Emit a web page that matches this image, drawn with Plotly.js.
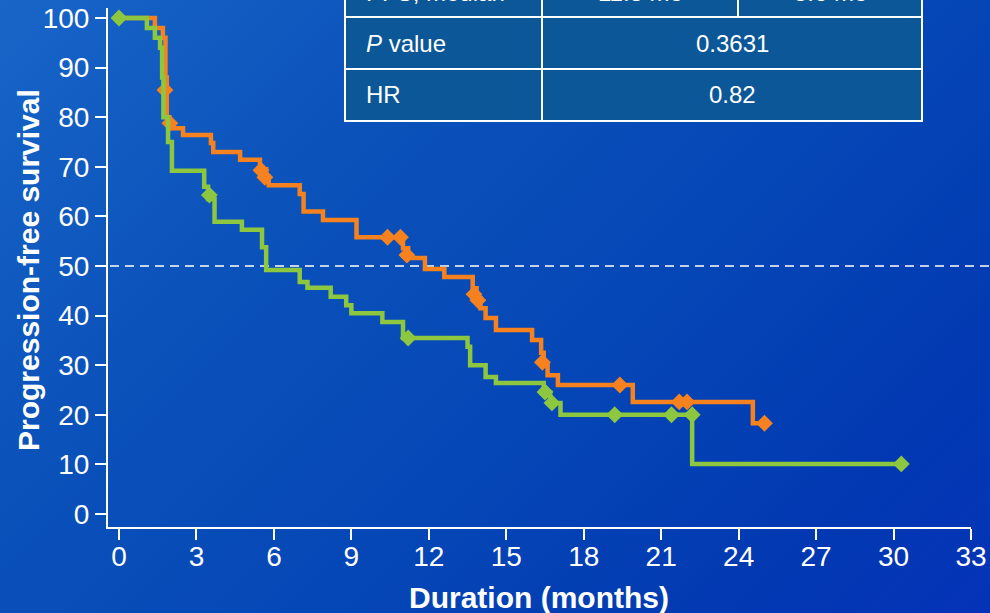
<!DOCTYPE html>
<html>
<head>
<meta charset="utf-8">
<script src="https://cdn.plot.ly/plotly-3.0.1.min.js"></script>
<style>
  html, body { margin: 0; padding: 0; }
  body {
    width: 990px; height: 613px; overflow: hidden;
    background: linear-gradient(135deg, #1865c8 0%, #0b52ba 30%, #0546b6 60%, #0238b2 85%, #0533b8 100%);
  }
  #chart { width: 990px; height: 613px; }
</style>
</head>
<body>
<div id="chart"></div>
<script>
// ---- Data ----
const orangeTime = [0, 1.39, 1.7, 1.8, 1.85, 1.95, 2.48, 3.56, 3.65, 4.69, 5.46, 5.7, 5.8, 7.0, 7.15, 7.9, 9.2, 11.0, 11.2, 11.85, 12.6, 13.7, 13.85, 14.0, 14.2, 14.6, 16.0, 16.35, 16.45, 16.6, 17.0, 19.9, 24.55, 25.0];
const orangeSurv = [100, 98, 96, 88, 80, 77.8, 76.4, 74.8, 73, 71.4, 69.5, 68, 66.3, 64.5, 61, 59.3, 55.8, 53.6, 51.6, 49.4, 47.8, 45.5, 43.5, 41.5, 39.5, 37.1, 35.1, 32.5, 30, 28, 26, 22.6, 18.3, 18.3];
const orangeCensorTime = [1.78, 1.97, 5.5, 5.65, 10.4, 10.9, 11.15, 13.75, 13.9, 16.4, 19.4, 21.7, 22.0, 25.0];
const orangeCensorSurv = [85.5, 78.8, 69.3, 67.9, 55.8, 55.8, 52.2, 44.3, 43.1, 30.6, 26, 22.6, 22.6, 18.3];

const greenTime = [0, 1.08, 1.39, 1.59, 1.67, 1.72, 1.9, 2.05, 3.3, 3.45, 3.7, 4.76, 5.54, 5.7, 7.0, 7.3, 8.2, 8.8, 9.0, 10.2, 11.0, 13.5, 13.6, 14.2, 14.6, 16.45, 16.7, 17.1, 22.2, 30.3];
const greenSurv = [100, 98, 96, 94, 88, 80, 75, 69.2, 66, 63.5, 58.9, 57.3, 53.8, 49.2, 46.8, 45.6, 43.8, 42.1, 40.5, 38.7, 35.5, 33.7, 30, 27.6, 26.4, 24.5, 22.4, 20, 10.1, 10.1];
const greenCensorTime = [0, 3.5, 11.2, 16.5, 16.77, 19.2, 21.4, 22.2, 30.3];
const greenCensorSurv = [100, 64.3, 35.5, 24.6, 22.4, 20, 20, 20, 10.1];

const xTicks = [0, 3, 6, 9, 12, 15, 18, 21, 24, 27, 30, 33];
const yTicks = [0, 10, 20, 30, 40, 50, 60, 70, 80, 90, 100];
const medianLine = 50;
const xTitle = 'Duration (months)';
const yTitle = 'Progression-free survival';

const tableRowLabels = ['PFS, median', '<i>P</i> value', 'HR'];
const tableColA = ['11.8 mo', '0.3631', '0.82'];
const tableColB = ['5.6 mo', null, null];

// ---- Styling / layout ----
const ORANGE = '#f5821f';
const GREEN = '#8dc63f';
const FONT = 'Liberation Sans, Arial, Helvetica, sans-serif';

const L = 108, R = 971, T = 8, B = 527;
const fx = px => (px - L) / (R - L);
const fy = py => (B - py) / (B - T);

const traces = [
  { x: orangeTime, y: orangeSurv, type: 'scatter', mode: 'lines',
    line: { color: ORANGE, width: 4.5, shape: 'hv' }, hoverinfo: 'skip' },
  { x: orangeCensorTime, y: orangeCensorSurv, type: 'scatter', mode: 'markers',
    marker: { symbol: 'diamond', size: 13, color: ORANGE }, hoverinfo: 'skip' },
  { x: greenTime, y: greenSurv, type: 'scatter', mode: 'lines',
    line: { color: GREEN, width: 4.5, shape: 'hv' }, hoverinfo: 'skip' },
  { x: greenCensorTime, y: greenCensorSurv, type: 'scatter', mode: 'markers',
    marker: { symbol: 'diamond', size: 13, color: GREEN }, hoverinfo: 'skip' }
];

const rowTops = [-40, 17, 69];
const rowBottom = 121;
const rowCenters = [-7.5, 44, 95];
const colX = [345, 542, 738, 922];

const shapes = [
  { type: 'line', xref: 'paper', yref: 'y', x0: fx(110), x1: fx(990), y0: medianLine, y1: medianLine,
    line: { color: 'white', width: 1.5, dash: '9px,6px' }, layer: 'below' },
  { type: 'rect', xref: 'paper', yref: 'paper', x0: fx(colX[0]), x1: fx(colX[3]), y0: fy(rowTops[0]), y1: fy(rowBottom),
    fillcolor: '#0b5797', line: { color: 'white', width: 2 }, layer: 'above' },
  { type: 'line', xref: 'paper', yref: 'paper', x0: fx(colX[0]), x1: fx(colX[3]), y0: fy(rowTops[1]), y1: fy(rowTops[1]),
    line: { color: 'white', width: 2 }, layer: 'above' },
  { type: 'line', xref: 'paper', yref: 'paper', x0: fx(colX[0]), x1: fx(colX[3]), y0: fy(rowTops[2]), y1: fy(rowTops[2]),
    line: { color: 'white', width: 2 }, layer: 'above' },
  { type: 'line', xref: 'paper', yref: 'paper', x0: fx(colX[1]), x1: fx(colX[1]), y0: fy(rowTops[0]), y1: fy(rowBottom),
    line: { color: 'white', width: 2 }, layer: 'above' },
  { type: 'line', xref: 'paper', yref: 'paper', x0: fx(colX[2]), x1: fx(colX[2]), y0: fy(rowTops[0]), y1: fy(rowTops[1]),
    line: { color: 'white', width: 2 }, layer: 'above' }
];

const annotations = [];
tableRowLabels.forEach((lab, i) => {
  annotations.push({ xref: 'paper', yref: 'paper', x: fx(364), y: fy(rowCenters[i]), xanchor: 'left', yanchor: 'middle',
    text: lab, showarrow: false, font: { family: FONT, size: 24, color: 'white' } });
  if (tableColB[i] !== null) {
    annotations.push({ xref: 'paper', yref: 'paper', x: fx((colX[1] + colX[2]) / 2), y: fy(rowCenters[i]), xanchor: 'center', yanchor: 'middle',
      text: tableColA[i], showarrow: false, font: { family: FONT, size: 24, color: 'white' } });
    annotations.push({ xref: 'paper', yref: 'paper', x: fx((colX[2] + colX[3]) / 2), y: fy(rowCenters[i]), xanchor: 'center', yanchor: 'middle',
      text: tableColB[i], showarrow: false, font: { family: FONT, size: 24, color: 'white' } });
  } else {
    annotations.push({ xref: 'paper', yref: 'paper', x: fx((colX[1] + colX[3]) / 2), y: fy(rowCenters[i]), xanchor: 'center', yanchor: 'middle',
      text: tableColA[i], showarrow: false, font: { family: FONT, size: 24, color: 'white' } });
  }
});
// axis titles
annotations.push({ xref: 'paper', yref: 'paper', x: fx(539), y: fy(597), xanchor: 'center', yanchor: 'middle',
  text: '<b>' + xTitle + '</b>', showarrow: false, font: { family: FONT, size: 30, color: 'white' } });
annotations.push({ xref: 'paper', yref: 'paper', x: fx(29), y: fy(270), xanchor: 'center', yanchor: 'middle', textangle: -90,
  text: '<b>' + yTitle + '</b>', showarrow: false, font: { family: FONT, size: 30, color: 'white' } });

const layout = {
  width: 990, height: 613,
  margin: { l: L, r: 990 - R, t: T, b: 613 - B, pad: 0 },
  paper_bgcolor: 'rgba(0,0,0,0)',
  plot_bgcolor: 'rgba(0,0,0,0)',
  showlegend: false,
  font: { family: FONT, color: 'white' },
  xaxis: {
    range: [-0.426, 33], tickvals: xTicks, ticktext: xTicks.map(String),
    showgrid: false, zeroline: false, showline: true, linecolor: 'white', linewidth: 2,
    ticks: 'outside', ticklen: 11, tickwidth: 2, tickcolor: 'white', ticklabelstandoff: -8,
    tickfont: { family: FONT, size: 28, color: 'white' },
    fixedrange: true
  },
  yaxis: {
    range: [-2.62, 102.02], tickvals: yTicks, ticktext: yTicks.map(String),
    showgrid: false, zeroline: false, showline: true, linecolor: 'white', linewidth: 2,
    ticks: 'outside', ticklen: 11, tickwidth: 2, tickcolor: 'white',
    tickfont: { family: FONT, size: 28, color: 'white' },
    fixedrange: true
  },
  shapes: shapes,
  annotations: annotations
};

Plotly.newPlot('chart', traces, layout, { displayModeBar: false, staticPlot: true });
</script>
</body>
</html>
